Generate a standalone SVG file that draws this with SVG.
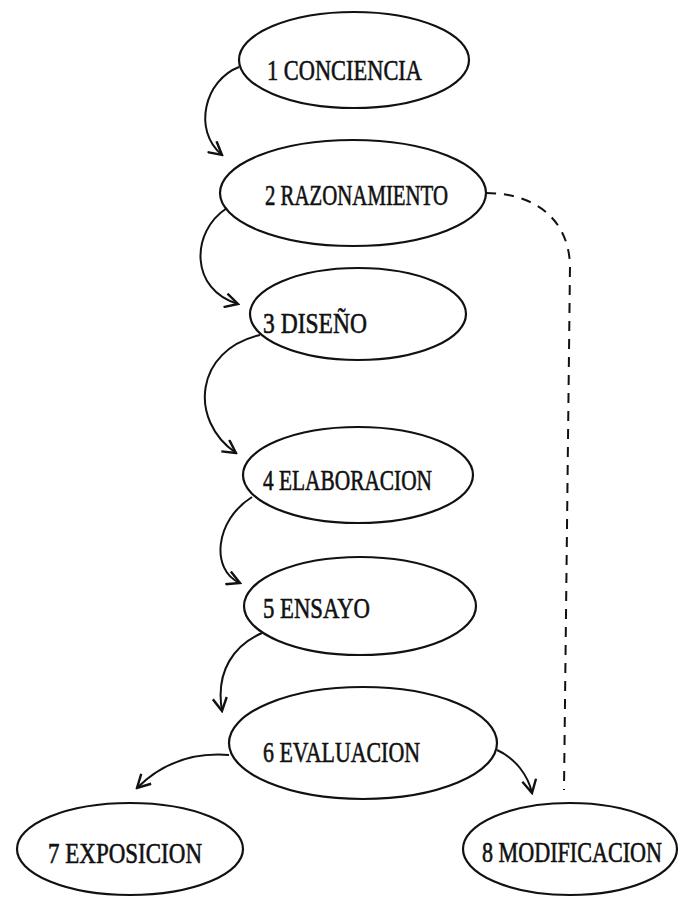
<svg xmlns="http://www.w3.org/2000/svg" width="683" height="897" viewBox="0 0 683 897">
<style>
.n ellipse{fill:none;stroke:#111;stroke-width:2.2}
.n text{font-family:"Liberation Serif","DejaVu Serif",serif;font-size:29px;fill:#111;stroke:#111;stroke-width:0.6}
.c path{fill:none;stroke:#111;stroke-width:2}
.c .d{stroke-dasharray:10 8}
</style>
<defs>
<marker id="ah" viewBox="0 0 16 16" refX="14" refY="8" markerWidth="16" markerHeight="16" markerUnits="userSpaceOnUse" orient="auto">
<path d="M1,1 L14,8 L1,15" fill="none" stroke="#111" stroke-width="2.4"/>
</marker>
</defs>
<rect width="683" height="897" fill="#fff"/>
<g class="c">
<path d="M239,67 C205,80 192,130 222,155" marker-end="url(#ah)"/>
<path d="M227,208 C190,232 190,290 238,304" marker-end="url(#ah)"/>
<path d="M260,335 C195,350 188,420 236,453" marker-end="url(#ah)"/>
<path d="M252,497 C215,520 210,570 240,583" marker-end="url(#ah)"/>
<path d="M262,633 C235,645 215,670 222,711" marker-end="url(#ah)"/>
<path d="M229,755 C190,752 160,765 137,788" marker-end="url(#ah)"/>
<path d="M497,750 C515,758 528,775 532,793" marker-end="url(#ah)"/>
<path class="d" d="M486,193 C530,193 568,215 570,265 L564,790"/>
</g>
<g id="n1" class="n"><ellipse cx="354" cy="60" rx="115" ry="48"/><text x="267" y="80" textLength="155" lengthAdjust="spacingAndGlyphs">1 CONCIENCIA</text></g>
<g id="n2" class="n"><ellipse cx="353" cy="193" rx="133" ry="53"/><text x="265" y="205" textLength="183" lengthAdjust="spacingAndGlyphs">2 RAZONAMIENTO</text></g>
<g id="n3" class="n"><ellipse cx="358" cy="314" rx="108" ry="46"/><text x="263" y="333" textLength="104" lengthAdjust="spacingAndGlyphs">3 DISEÑO</text></g>
<g id="n4" class="n"><ellipse cx="358" cy="475" rx="115" ry="48"/><text x="263" y="490" textLength="169" lengthAdjust="spacingAndGlyphs">4 ELABORACION</text></g>
<g id="n5" class="n"><ellipse cx="360" cy="606" rx="116" ry="49"/><text x="263" y="618" textLength="107" lengthAdjust="spacingAndGlyphs">5 ENSAYO</text></g>
<g id="n6" class="n"><ellipse cx="363" cy="743" rx="134" ry="56"/><text x="263" y="762" textLength="157" lengthAdjust="spacingAndGlyphs">6 EVALUACION</text></g>
<g id="n7" class="n"><ellipse cx="130" cy="849" rx="113" ry="46"/><text x="48" y="863" textLength="154" lengthAdjust="spacingAndGlyphs">7 EXPOSICION</text></g>
<g id="n8" class="n"><ellipse cx="570" cy="849" rx="107" ry="46"/><text x="482" y="862" textLength="180" lengthAdjust="spacingAndGlyphs">8 MODIFICACION</text></g>
</svg>
